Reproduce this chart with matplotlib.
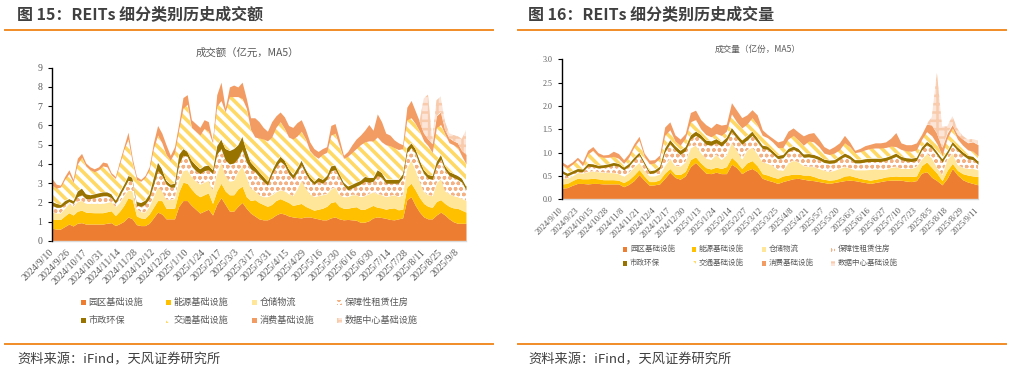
import numpy as np
import matplotlib
matplotlib.use('Agg')
import matplotlib.pyplot as plt
from matplotlib.patches import Rectangle
from matplotlib.lines import Line2D

CJK = ['Noto Sans CJK SC', 'DejaVu Sans']
SERIF = ['Liberation Serif', 'DejaVu Serif']
plt.rcParams['font.family'] = CJK
plt.rcParams['hatch.linewidth'] = 2.0

# ---------------- data ----------------
series_names = ['园区基础设施', '能源基础设施', '仓储物流', '保障性租赁住房',
                '市政环保', '交通基础设施', '消费基础设施', '数据中心基础设施']

left_tick_labels = ['2024/9/10', '2024/9/26', '2024/10/17', '2024/10/31', '2024/11/14',
                    '2024/11/28', '2024/12/12', '2024/12/26', '2025/1/10', '2025/1/24',
                    '2025/2/17', '2025/3/3', '2025/3/17', '2025/3/31', '2025/4/15',
                    '2025/4/29', '2025/5/16', '2025/5/30', '2025/6/16', '2025/6/30',
                    '2025/7/14', '2025/7/28', '2025/8/11', '2025/8/25', '2025/9/8']

right_tick_labels = ['2024/9/10', '2024/9/23', '2024/10/15', '2024/10/28', '2024/11/8',
                     '2024/11/21', '2024/12/4', '2024/12/17', '2024/12/30', '2025/1/13',
                     '2025/1/24', '2025/2/14', '2025/2/27', '2025/3/12', '2025/3/25',
                     '2025/4/8', '2025/4/21', '2025/5/7', '2025/5/20', '2025/6/3',
                     '2025/6/16', '2025/6/27', '2025/7/10', '2025/7/23', '2025/8/5',
                     '2025/8/18', '2025/8/29', '2025/9/11']

# 成交额（亿元，MA5）
amt_park = [0.66,0.62,0.62,0.75,0.88,0.78,0.92,0.95,0.88,0.88, 0.88,0.88,0.88,0.92,0.95,0.80,0.90,1.02,1.25,1.15,
            0.85,0.80,0.80,0.92,1.20,1.50,1.40,1.15,1.15,1.15, 1.80,2.10,2.10,1.85,1.65,1.45,1.55,1.65,1.35,1.90,
            2.25,1.90,1.55,1.55,1.80,2.00,1.70,1.45,1.30,1.15, 1.10,1.10,1.20,1.35,1.45,1.40,1.30,1.25,1.22,1.20,
            1.25,1.25,1.20,1.15,1.10,1.10,1.20,1.25,1.15,1.10, 1.12,1.10,1.08,0.97,0.98,1.05,1.20,1.25,1.22,1.18,
            1.12,1.10,1.15,1.20,2.15,2.30,1.85,1.50,1.25,1.15, 1.15,1.35,1.50,1.35,1.15,1.00,0.92,0.92,0.92]
amt_energy = [0.49,0.50,0.50,0.55,0.59,0.57,0.63,0.65,0.62,0.60, 0.59,0.59,0.59,0.60,0.62,0.52,0.65,0.83,1.00,1.00,
              0.45,0.40,0.38,0.48,0.55,0.60,0.70,0.55,0.55,0.55, 0.75,0.95,0.90,0.85,0.80,0.85,0.85,0.85,0.60,0.70,
              0.75,0.70,0.85,0.85,0.90,0.85,0.60,0.65,0.85,0.85, 0.80,0.70,0.70,0.75,0.75,0.70,0.70,0.60,0.68,0.75,
              0.55,0.45,0.40,0.50,0.60,0.70,0.80,0.80,0.65,0.60, 0.58,0.65,0.70,0.68,0.67,0.70,0.65,0.50,0.50,0.47,
              0.58,0.62,0.47,0.45,0.65,0.70,0.80,0.75,0.70,0.65, 0.60,0.70,0.65,0.60,0.65,0.72,0.78,0.68,0.58]
amt_logistics = [0.35,0.33,0.33,0.40,0.48,0.45,0.50,0.50,0.45,0.47, 0.48,0.48,0.48,0.48,0.48,0.46,0.45,0.50,0.40,0.45,
                 0.35,0.32,0.32,0.40,0.55,0.70,0.50,0.45,0.45,0.50, 0.60,0.60,0.70,0.65,0.65,0.65,0.65,0.65,0.70,0.90,
                 1.10,0.80,0.70,0.75,0.90,1.05,1.05,0.65,0.45,0.40, 0.40,0.50,0.50,0.45,0.45,0.50,0.45,0.50,0.80,1.20,
                 0.95,0.75,0.70,0.70,0.70,0.65,0.70,0.75,0.60,0.60, 0.60,0.65,0.62,0.65,0.70,0.70,0.70,0.70,0.68,0.65,
                 0.65,0.68,0.68,0.75,1.00,1.20,1.05,0.85,0.60,0.60, 0.60,0.95,1.10,0.65,0.65,0.63,0.60,0.60,0.60]
amt_housing = [0.35,0.30,0.30,0.20,0.10,0.15,0.25,0.30,0.25,0.25, 0.30,0.35,0.40,0.35,0.20,0.17,0.35,0.40,0.50,0.50,
               0.20,0.28,0.40,0.40,0.60,0.85,0.80,0.80,0.65,0.60, 0.85,0.80,0.70,0.55,0.55,0.55,0.60,0.55,0.85,1.00,
               0.70,0.80,0.90,0.90,0.70,0.85,0.75,1.00,1.00,0.95, 0.80,0.60,1.05,1.30,1.50,1.35,1.05,0.90,0.85,0.80,
               0.75,0.70,0.65,0.75,0.60,0.75,0.95,0.90,0.90,0.60, 0.35,0.35,0.45,0.65,0.75,0.60,0.55,0.95,0.90,0.70,
               0.65,0.60,0.70,0.90,0.80,0.65,0.85,0.85,0.95,0.85, 0.85,0.90,1.00,1.10,0.95,0.95,0.90,0.85,0.55]
amt_municipal = [0.20,0.20,0.15,0.20,0.15,0.15,0.30,0.35,0.25,0.20, 0.20,0.20,0.20,0.20,0.20,0.17,0.20,0.20,0.25,0.20,
                 0.20,0.20,0.22,0.25,0.40,0.45,0.35,0.20,0.15,0.20, 0.50,0.35,0.25,0.30,0.30,0.25,0.25,0.25,0.20,0.45,
                 0.50,0.60,0.70,0.75,0.70,0.70,0.60,0.35,0.25,0.25, 0.25,0.20,0.20,0.25,0.25,0.25,0.25,0.20,0.25,0.25,
                 0.25,0.20,0.15,0.20,0.20,0.20,0.25,0.25,0.20,0.15, 0.20,0.20,0.20,0.20,0.25,0.25,0.20,0.30,0.25,0.20,
                 0.20,0.20,0.20,0.20,0.25,0.25,0.25,0.25,0.20,0.20, 0.20,0.25,0.25,0.20,0.20,0.20,0.20,0.20,0.20]
amt_transport = [0.85,0.80,0.90,1.10,1.30,0.95,1.40,1.60,1.45,1.30, 1.15,1.20,1.35,1.30,1.00,1.13,1.45,1.80,1.90,0.80,
                 1.15,1.10,1.18,1.25,1.50,1.40,1.35,1.35,1.25,1.60, 1.30,2.10,2.45,1.70,1.75,1.75,1.95,1.75,1.40,2.05,
                 2.00,1.90,2.80,2.70,2.50,1.95,2.20,1.70,1.55,1.75, 1.95,2.10,1.75,1.80,1.80,1.65,1.65,1.85,1.65,1.50,
                 1.55,1.35,1.35,1.00,1.30,1.20,1.60,1.65,1.45,1.25, 1.55,1.65,1.75,1.85,1.80,1.90,1.90,1.70,1.60,1.80,
                 1.75,1.65,1.55,1.30,1.45,1.30,1.30,1.50,1.50,1.50, 1.20,1.75,1.55,1.65,1.50,1.50,1.45,1.15,1.15]
amt_consumer = [0.35,0.20,0.10,0.15,0.20,0.15,0.30,0.20,0.15,0.15, 0.15,0.15,0.20,0.20,0.10,0.10,0.15,0.15,0.35,0.20,
                0.15,0.10,0.10,0.15,0.30,0.50,0.50,0.50,0.25,0.30, 0.30,0.55,0.50,0.40,0.40,0.40,0.45,0.50,0.10,0.60,
                0.95,0.20,0.50,0.60,0.50,0.85,0.50,0.60,1.00,0.85, 0.60,0.50,0.80,0.60,0.50,0.60,0.60,0.60,0.70,0.60,
                0.50,0.45,0.35,0.35,0.30,0.30,0.50,0.50,0.35,0.15, 0.25,0.40,0.50,0.50,0.60,0.85,0.55,1.20,1.05,0.60,
                0.55,0.40,0.35,0.20,0.65,0.90,0.65,0.50,0.40,0.35, 0.45,0.60,0.65,0.25,0.25,0.20,0.25,0.30,0.50]
amt_datacenter = [0.0] * 88 + [1.80,2.30,0.20,0.80,0.80,0.40,0.25,0.30,0.35,0.60,1.25]

# 成交量（亿份，MA5）
vol_park = [.24,.25,.30,.34,.34,.33,.34,.34,.33,.33, .33,.33,.27,.32,.40,.53,.41,.30,.31,.33,
            .45,.58,.47,.43,.50,.70,.79,.67,.56,.55, .58,.55,.55,.75,.68,.55,.62,.66,.59,.45,
            .41,.38,.34,.38,.41,.44,.45,.43,.41,.40, .38,.36,.34,.36,.38,.40,.41,.40,.38,.36,
            .34,.36,.38,.40,.41,.41,.41,.39,.38,.40, .56,.59,.47,.40,.31,.45,.66,.52,.42,.37,
            .34,.31]
vol_energy = [.09,.09,.10,.11,.10,.11,.11,.10,.09,.09, .09,.08,.09,.10,.12,.11,.09,.08,.07,.09,
              .11,.08,.07,.10,.10,.15,.12,.11,.12,.10, .11,.11,.15,.15,.12,.11,.16,.17,.13,.10,
              .11,.10,.11,.12,.11,.10,.09,.09,.11,.09, .07,.07,.07,.06,.07,.10,.10,.08,.07,.07,
              .07,.07,.07,.08,.08,.09,.08,.10,.11,.10, .16,.21,.21,.16,.09,.17,.11,.10,.13,.15,
              .16,.18]
vol_logistics = [.12,.11,.10,.12,.12,.15,.15,.15,.16,.15, .15,.14,.13,.15,.17,.15,.12,.12,.12,.12,
                 .16,.21,.18,.18,.20,.25,.25,.22,.20,.20, .27,.19,.25,.32,.25,.20,.27,.29,.26,.25,
                 .25,.24,.18,.12,.26,.29,.26,.20,.18,.21, .21,.19,.18,.20,.21,.20,.16,.15,.18,.20,
                 .23,.22,.19,.16,.19,.20,.17,.17,.17,.20, .14,.18,.20,.12,.13,.23,.22,.12,.13,.14,
                 .16,.14]
vol_housing = [.11,.05,.05,.03,.03,.12,.10,.08,.10,.13, .16,.16,.14,.14,.15,.16,.13,.05,.07,.11,
               .29,.32,.34,.25,.24,.19,.21,.30,.30,.31, .25,.29,.29,.23,.26,.32,.22,.25,.25,.29,
               .30,.25,.24,.27,.24,.24,.22,.18,.21,.19, .19,.17,.18,.16,.19,.22,.20,.15,.15,.17,
               .17,.16,.17,.19,.19,.22,.19,.16,.15,.13, .19,.19,.21,.27,.27,.12,.18,.31,.27,.21,
               .19,.12]
vol_municipal = [.06,.06,.06,.06,.06,.06,.06,.06,.06,.06, .06,.06,.06,.06,.06,.06,.06,.06,.06,.06,
                 .09,.09,.09,.09,.09,.09,.09,.09,.09,.09, .09,.09,.09,.09,.09,.09,.09,.09,.09,.07,
                 .07,.07,.07,.07,.07,.07,.07,.07,.07,.07, .07,.07,.07,.07,.07,.07,.07,.07,.07,.07,
                 .07,.07,.07,.07,.07,.07,.07,.07,.07,.07, .07,.07,.07,.07,.07,.07,.07,.07,.07,.07,
                 .07,.07]
vol_transport = [.12,.11,.14,.19,.07,.20,.29,.20,.16,.14, .13,.11,.08,.13,.22,.26,.11,.15,.15,.17,
                 .27,.21,.10,.11,.18,.28,.25,.12,.12,.09, .11,.14,.13,.29,.26,.26,.25,.29,.28,.21,
                 .18,.19,.17,.15,.20,.23,.18,.19,.27,.27, .21,.13,.12,.14,.14,.22,.19,.15,.17,.19,
                 .21,.22,.22,.21,.20,.14,.15,.15,.15,.16, .16,.21,.20,.17,.07,.27,.29,.17,.14,.12,
                 .11,.11]
vol_consumer = [.06,.06,.05,.05,.08,.08,.08,.07,.05,.06, .11,.10,.08,.08,.07,.08,.07,.08,.07,.07,
                .18,.17,.13,.13,.10,.20,.20,.20,.21,.19, .22,.22,.15,.24,.25,.22,.20,.17,.21,.12,
                .07,.08,.12,.15,.17,.16,.17,.20,.16,.20, .16,.14,.11,.14,.15,.16,.10,.05,.07,.09,
                .09,.11,.11,.12,.17,.30,.14,.13,.14,.15, .11,.16,.23,.22,.17,.10,.07,.10,.13,.15,
                .20,.24]
vol_datacenter = [0.0] * 72 + [.17,1.30,.45,.15,.18,.12,.07,.07,.06,.09]

amt_series = [amt_park, amt_energy, amt_logistics, amt_housing, amt_municipal,
              amt_transport, amt_consumer, amt_datacenter]
vol_series = [vol_park, vol_energy, vol_logistics, vol_housing, vol_municipal,
              vol_transport, vol_consumer, vol_datacenter]

# ---------------- styles ----------------
styles = [
    dict(fc='#ED7D31', ec='#ED7D31', hatch=None, hlw=1.0),
    dict(fc='#FFC000', ec='#FFC000', hatch=None, hlw=1.0),
    dict(fc='#FFE699', ec='#FFE699', hatch=None, hlw=1.0),
    dict(fc='white', ec='#F4B183', hatch='ooo', hlw=1.0),
    dict(fc='#997300', ec='#997300', hatch=None, hlw=1.0),
    dict(fc='white', ec='#FFD966', hatch='\\\\\\', hlw=2.6),
    dict(fc='#F29B63', ec='#F29B63', hatch=None, hlw=1.0),
    dict(fc='#FCE4D6', ec='#F8CBAD', hatch='++', hlw=1.8),
]

W, H = 1011, 372
fig = plt.figure(figsize=(W / 100, H / 100), dpi=100)


def fx(x):
    return x / W


def fy(y):
    return 1 - y / H


def draw_stack(ax, series, x):
    base = np.zeros(len(x))
    for vals, st in zip(series, styles):
        top = base + np.asarray(vals)
        with plt.rc_context({'hatch.linewidth': st['hlw']}):
            pc = ax.fill_between(x, base, top, facecolor=st['fc'], edgecolor=st['ec'],
                                 linewidth=0, hatch=st['hatch'])
            if hasattr(pc, 'set_hatch_linewidth'):
                pc.set_hatch_linewidth(st['hlw'])
        base = top


def style_axes(ax, ylim, yticks, yfmt, ysize, xsize, ticklabels, step, n):
    ax.set_xlim(0, n - 1)
    ax.set_ylim(*ylim)
    ax.set_yticks(yticks)
    ax.set_yticklabels([yfmt.format(v) for v in yticks], family=SERIF, fontsize=ysize, color='#595959')
    ax.set_xticks(np.arange(0, step * len(ticklabels), step))
    ax.set_xticklabels(ticklabels, rotation=45, ha='right', va='center', rotation_mode='anchor',
                       family=SERIF, fontsize=xsize, color='#595959')
    ax.tick_params(axis='x', length=0, pad=7)
    ax.tick_params(axis='y', length=3, width=0.8, color='#000000', pad=4, direction='out')
    for s in ['top', 'right']:
        ax.spines[s].set_visible(False)
    ax.spines['left'].set_color('#000000')
    ax.spines['left'].set_linewidth(1.0)
    ax.spines['bottom'].set_color('#D9D9D9')
    ax.spines['bottom'].set_linewidth(1.0)
    ax.spines['left'].set_zorder(5)
    ax.set_facecolor('none')


# ---------------- left panel ----------------
axL = fig.add_axes([fx(52), fy(241), fx(414), (241 - 67.7) / H])
xL = np.arange(len(amt_park))
draw_stack(axL, amt_series, xL)
style_axes(axL, (0, 9), list(range(0, 10)), '{:d}', 7, 7.2, left_tick_labels, 4, len(amt_park))

# ---------------- right panel ----------------
axR = fig.add_axes([fx(562), fy(199.3), fx(416), 140 / H])
xR = np.arange(len(vol_park))
draw_stack(axR, vol_series, xR)
yt = [0.0, 0.5, 1.0, 1.5, 2.0, 2.5, 3.0]
style_axes(axR, (0, 3), yt, '{:.1f}', 5.8, 6.2, right_tick_labels, 3, len(vol_park))

# ---------------- texts ----------------
fig.text(fx(17), fy(15), '图 15：REITs 细分类别历史成交额', fontsize=11.5, fontweight='bold',
         color='#404040', va='center', ha='left')
fig.text(fx(528), fy(15), '图 16：REITs 细分类别历史成交量', fontsize=11.5, fontweight='bold',
         color='#404040', va='center', ha='left')
fig.text(fx(247), fy(53), '成交额（亿元，MA5）', fontsize=7.5, color='#595959', va='center', ha='center')
fig.text(fx(758), fy(49), '成交量（亿份，MA5）', fontsize=6.2, color='#595959', va='center', ha='center')
fig.text(fx(17), fy(360), '资料来源：iFind，天风证券研究所', fontsize=9.5, color='#404040', va='center', ha='left')
fig.text(fx(528), fy(360), '资料来源：iFind，天风证券研究所', fontsize=9.5, color='#404040', va='center', ha='left')

for (x0, x1) in [(5, 493), (518, 1006)]:
    for yy in (30, 344):
        fig.add_artist(Line2D([fx(x0), fx(x1)], [fy(yy), fy(yy)], transform=fig.transFigure,
                              color='#F28C28', linewidth=1.4))


# ---------------- legends ----------------
def draw_legend(col_x, row_y, size, fsize, gap):
    for k, (name, st) in enumerate(zip(series_names, styles)):
        cx = col_x[k % 4]
        cy = row_y[k // 4]
        with plt.rc_context({'hatch.linewidth': min(st['hlw'], 1.2)}):
            r = Rectangle((fx(cx - size / 2), fy(cy + size / 2)), size / W, size / H,
                          transform=fig.transFigure, facecolor=st['fc'], edgecolor=st['ec'],
                          linewidth=0, hatch=st['hatch'])
            if hasattr(r, 'set_hatch_linewidth'):
                r.set_hatch_linewidth(min(st['hlw'], 1.2))
            fig.add_artist(r)
        fig.text(fx(cx + gap), fy(cy), name, fontsize=fsize, color='#595959', va='center', ha='left')


draw_legend([83, 168, 254, 339], [302.7, 320.7], 5, 6.6, 5.5)
draw_legend([625, 694, 764, 833], [249.3, 263.3], 4.5, 5.4, 5)

fig.savefig('out.png', dpi=100)
